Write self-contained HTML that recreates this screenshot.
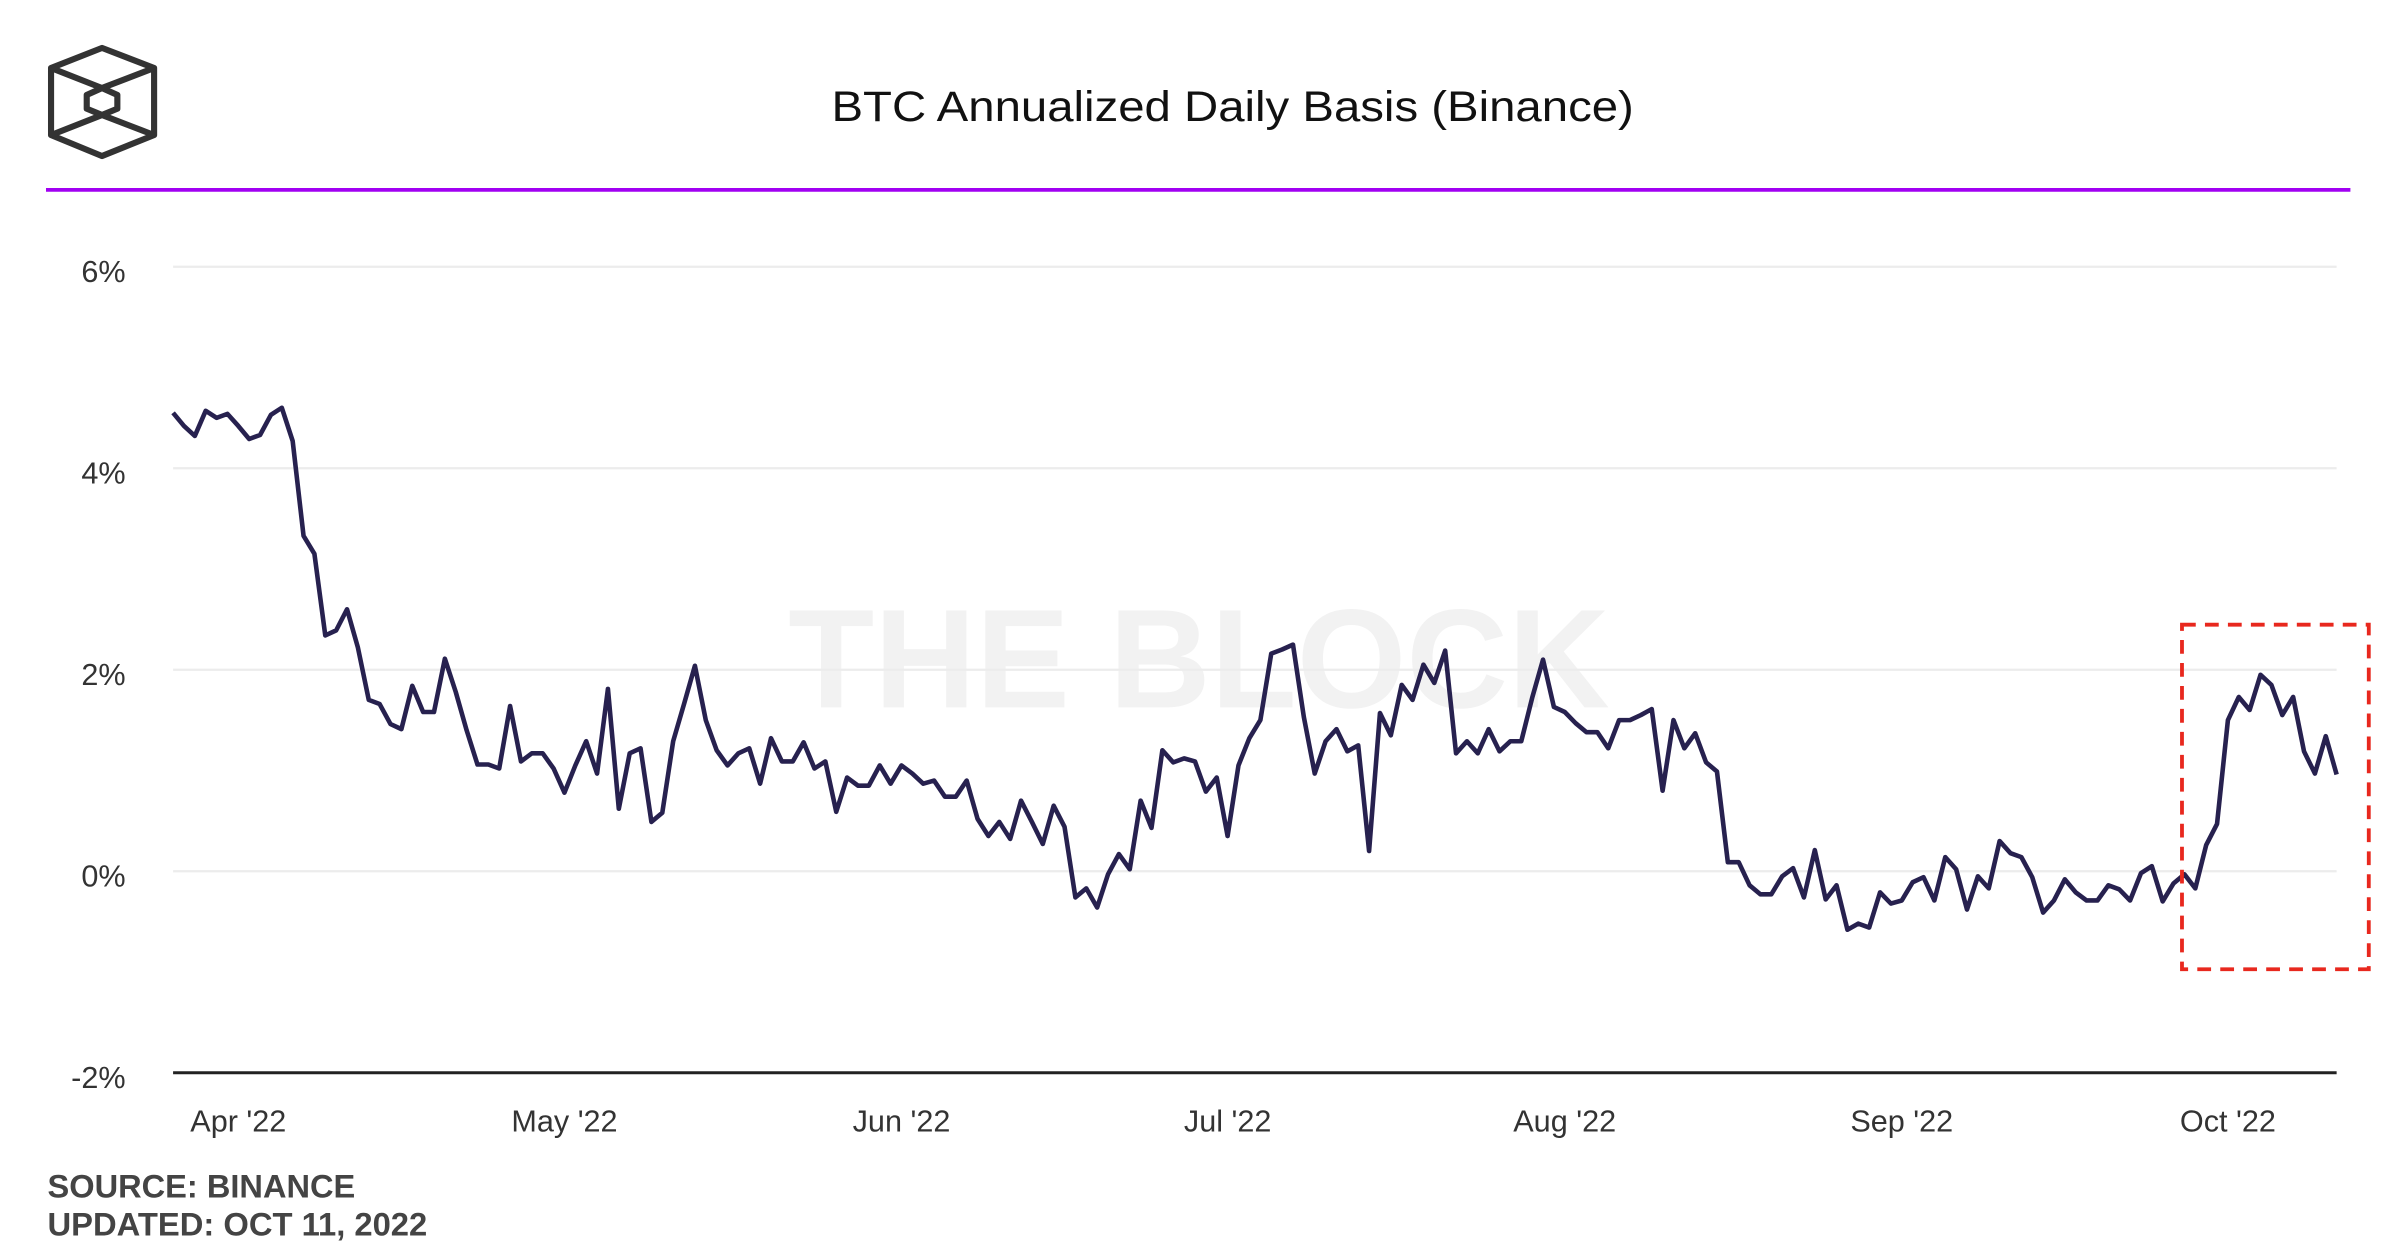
<!DOCTYPE html>
<html><head><meta charset="utf-8"><style>
html,body{margin:0;padding:0;background:#fff}
svg{display:block}
text{font-family:"Liberation Sans",sans-serif}
</style></head><body>
<svg id="chart" width="2401" height="1260" viewBox="0 0 1568 822.9" xmlns="http://www.w3.org/2000/svg">
<g fill="none" stroke="#333" stroke-width="4" stroke-linejoin="round">
<polygon points="66.6,31.3 100.6,44.4 100.6,88.2 66.6,101.9 33.3,88.2 33.3,44.4"/>
<polyline points="33.3,44.4 66.6,57.5 100.6,44.4"/>
<polyline points="33.3,88.2 66.6,75.1 100.6,88.2"/>
<polygon points="66.6,57.5 76.6,62 76.6,71 66.6,75.1 56.6,71 56.6,62"/>
</g>
<text x="805" y="79" text-anchor="middle" font-size="28" textLength="524" lengthAdjust="spacingAndGlyphs" fill="#111">BTC Annualized Daily Basis (Binance)</text>
<line x1="30" y1="124" x2="1535" y2="124" stroke="#a100f2" stroke-width="2.5"/>
<text x="783" y="462" text-anchor="middle" font-size="92" font-weight="bold" fill="#f2f2f2">THE BLOCK</text>
<g id="grid"></g><g id="xaxis"></g>
<path id="line" fill="none" stroke="#27214f" stroke-width="3" stroke-linejoin="round"/>
<rect x="1425" y="408" width="122" height="225" fill="none" stroke="#e8281e" stroke-width="2.5" stroke-dasharray="9,6"/>
<text x="31" y="782" font-size="21" font-weight="bold" textLength="201" lengthAdjust="spacingAndGlyphs" fill="#444">SOURCE: BINANCE</text>
<text x="31" y="807" font-size="21" font-weight="bold" textLength="248" lengthAdjust="spacingAndGlyphs" fill="#444">UPDATED: OCT 11, 2022</text>
</svg>
<script>
const yTicks=[6,4,2,0,-2];
const yTickLabels=["6%","4%","2%","0%","-2%"];
const monthLabels=["Apr '22","May '22","Jun '22","Jul '22","Aug '22","Sep '22","Oct '22"];
const monthDayIndex=[6,36,67,97,128,159,189];
const basisValues=[4.55,4.42,4.32,4.57,4.5,4.54,4.42,4.29,4.33,4.53,4.6,4.27,3.33,3.15,2.34,2.39,2.6,2.22,1.7,1.66,1.46,1.41,1.84,1.58,1.58,2.11,1.78,1.4,1.06,1.06,1.02,1.64,1.09,1.17,1.17,1.02,0.78,1.05,1.29,0.97,1.81,0.62,1.17,1.22,0.49,0.58,1.29,1.66,2.04,1.5,1.2,1.05,1.17,1.22,0.87,1.32,1.09,1.09,1.28,1.02,1.09,0.59,0.93,0.85,0.85,1.05,0.87,1.05,0.97,0.87,0.9,0.74,0.74,0.9,0.52,0.35,0.49,0.32,0.7,0.49,0.27,0.65,0.44,-0.26,-0.17,-0.36,-0.03,0.17,0.02,0.7,0.43,1.2,1.08,1.12,1.09,0.79,0.93,0.35,1.05,1.32,1.5,2.16,2.2,2.25,1.53,0.97,1.29,1.41,1.19,1.25,0.2,1.57,1.35,1.85,1.7,2.05,1.87,2.19,1.17,1.29,1.17,1.41,1.19,1.29,1.29,1.72,2.1,1.63,1.58,1.47,1.38,1.38,1.22,1.5,1.5,1.55,1.61,0.8,1.5,1.22,1.37,1.08,0.99,0.09,0.09,-0.14,-0.23,-0.23,-0.05,0.03,-0.26,0.21,-0.28,-0.14,-0.58,-0.52,-0.56,-0.21,-0.32,-0.29,-0.11,-0.06,-0.29,0.14,0.02,-0.38,-0.05,-0.17,0.3,0.18,0.14,-0.06,-0.41,-0.29,-0.08,-0.21,-0.29,-0.29,-0.14,-0.18,-0.29,-0.02,0.05,-0.3,-0.12,-0.03,-0.17,0.26,0.47,1.5,1.73,1.6,1.95,1.85,1.55,1.73,1.19,0.97,1.34,0.96];
const NS="http://www.w3.org/2000/svg";
const X0=113,X1=1526;
const yScale=v=>569-v*65.8;
const xScale=i=>X0+(X1-X0)*i/(basisValues.length-1);
const grid=document.getElementById('grid');
yTicks.forEach((t,k)=>{
  const y=yScale(t);
  const l=document.createElementNS(NS,'line');
  
  
  l.setAttribute('x1',X0);l.setAttribute('x2',X1);l.setAttribute('y1',y);l.setAttribute('y2',y);
  l.setAttribute('stroke',t===-2?'#222':'#ececec');l.setAttribute('stroke-width',t===-2?2:1.5);
  grid.appendChild(l);
  const tx=document.createElementNS(NS,'text');
  
  
  tx.setAttribute('x',82);tx.setAttribute('y',y+10);tx.setAttribute('text-anchor','end');
  tx.setAttribute('font-size','20');tx.setAttribute('fill','#333');
  tx.textContent=yTickLabels[k];grid.appendChild(tx);
});
const xa=document.getElementById('xaxis');
monthLabels.forEach((m,k)=>{
  const tx=document.createElementNS(NS,'text');
  
  
  tx.setAttribute('x',xScale(monthDayIndex[k]));tx.setAttribute('y',739);tx.setAttribute('text-anchor','middle');
  tx.setAttribute('font-size','20');tx.setAttribute('fill','#333');
  tx.textContent=m;xa.appendChild(tx);
});
document.getElementById('line').setAttribute('d',basisValues.map((v,i)=>(i?'L':'M')+xScale(i).toFixed(1)+','+yScale(v).toFixed(1)).join(''));
</script>
</body></html>
